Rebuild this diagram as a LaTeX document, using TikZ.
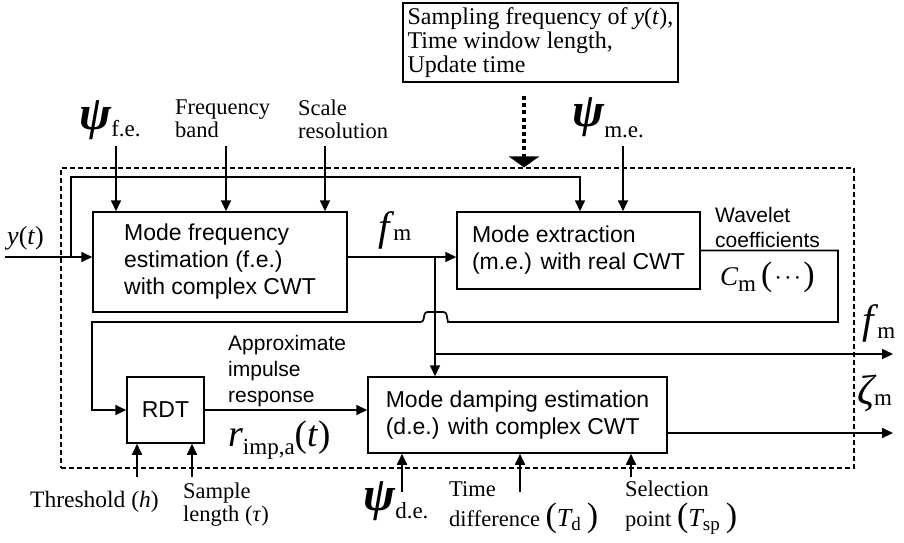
\documentclass[tikz,border=0pt]{standalone}
\usepackage{fontspec}
\setmainfont{Liberation Serif}
\setsansfont{Liberation Sans}
\usetikzlibrary{arrows.meta}
\newcommand{\bigpsi}{{\fontsize{48}{48}\selectfont\bfseries\itshape ψ}}
\newcommand{\bigf}{{\fontsize{41}{41}\selectfont\itshape f}}
\newcommand{\bigpar}[1]{{\fontsize{34}{34}\selectfont #1}}
\begin{document}
\begin{tikzpicture}[x=1pt,y=-1pt,
  arr/.style={line width=1.7pt,-{Triangle[length=11pt,width=10pt]}},
  blk/.style={draw,line width=1.5pt,font=\sffamily\fontsize{23}{27}\selectfont,align=left,inner sep=0pt},
  lbl/.style={font=\fontsize{22.5}{23}\selectfont,align=left,inner sep=0pt},
  slbl/.style={font=\sffamily\fontsize{21}{26}\selectfont,align=left,inner sep=0pt},
  sym/.style={font=\fontsize{23}{23}\selectfont,inner sep=0pt,anchor=base west}]
\useasboundingbox (0,0) rectangle (904,542);

% dashed frame
\node[draw,line width=1.2pt,dash pattern=on 5pt off 3pt,minimum width=793pt,minimum height=300pt,inner sep=0pt] (DB) at (457.5,318) {};

% blocks
\node[blk,minimum width=254pt,minimum height=100pt] (MFE) at (220,262) {Mode frequency\\estimation (f.e.)\\with complex CWT};
\node[blk,minimum width=243pt,minimum height=77pt] (MEX) at (578.5,250.5) {Mode extraction\\(m.e.) with real CWT};
\node[blk,minimum width=77pt,minimum height=66pt] (RDT) at (165.5,410) {RDT};
\node[blk,minimum width=299pt,minimum height=76pt] (MDE) at (517.5,415) {Mode damping estimation\\(d.e.) with complex CWT};
\node[draw,line width=1.2pt,font=\fontsize{24}{24}\selectfont,align=left,minimum width=275pt,minimum height=79pt,inner sep=0pt] (TOP) at (540.5,42.5) {Sampling frequency of \textit{y}(\textit{t}),\\Time window length,\\Update time};

% top labels
\node[sym] (psife) at (79,129) {\bigpsi\raisebox{-7pt}{f.e.}};
\node[lbl,anchor=north west] (fband) at (175,100) {Frequency\\band};
\node[lbl,anchor=north west] (sres) at (298,100) {Scale\\resolution};
\node[sym] (psime) at (572,126) {\bigpsi\raisebox{-11pt}{m.e.}};
\node[sym,font=\fontsize{26}{26}\selectfont] (ylab) at (7,244) {\textit{y}(\textit{t})};
\node[sym] (fm1) at (378,240) {\bigf\,m};
\node[slbl,anchor=north west,font=\sffamily\fontsize{21}{25}\selectfont] (wc) at (715,207) {Wavelet\\coefficients};
\node[sym] (cm) at (720,285) {{\fontsize{27}{27}\selectfont\itshape C}\raisebox{-6pt}{m}\kern5pt\bigpar{(}\kern2pt·\kern2pt·\kern2pt·\kern2pt\bigpar{)}};
\node[slbl,anchor=north west] (air) at (228,335) {Approximate\\impulse\\response};
\node[sym] (rimp) at (228,446) {{\fontsize{38}{38}\selectfont\itshape r}\raisebox{-8pt}{imp,a}{\fontsize{37}{37}\selectfont(\textit{t})}};
\node[sym] (fm2) at (862,333) {\bigf\raisebox{-5pt}{\,m}};
\node[sym] (zm) at (857,404) {{\fontsize{42}{42}\selectfont\itshape ζ}\raisebox{-1pt}{m}};

% bottom labels
\node[sym,font=\fontsize{23.5}{23.5}\selectfont] (thr) at (30,507) {Threshold (\textit{h})};
\node[lbl,anchor=north west] (slen) at (183,483) {Sample\\length (\textit{τ})};
\node[sym] (pside) at (363,510) {\bigpsi\raisebox{-8pt}{d.e.}};
\node[lbl,anchor=north west,font=\fontsize{22.5}{30}\selectfont] (tdiff) at (449,481) {Time\\difference \bigpar{(}{\fontsize{26}{26}\selectfont\itshape T}\raisebox{-4pt}{\fontsize{19}{19}\selectfont d}\kern6pt\bigpar{)}};
\node[lbl,anchor=north west,font=\fontsize{22.5}{30}\selectfont] (selp) at (625,481) {Selection\\point \bigpar{(}{\fontsize{26}{26}\selectfont\itshape T}\raisebox{-4pt}{\fontsize{19}{19}\selectfont sp}\kern6pt\bigpar{)}};

% coordinates
\coordinate (yin) at (5,257);
\coordinate (split) at (71,257);
\coordinate (c1) at (580,177);
\coordinate (j1) at (435,257);
\coordinate (j2) at (435,354);
\coordinate (fmout) at (893,354);
\coordinate (zout) at (893,433);
\coordinate (w1) at (838,250.5);
\coordinate (w2) at (92,322);
\coordinate (a1) at (116,146);
\coordinate (a2) at (226,146);
\coordinate (a3) at (325,146);
\coordinate (a4) at (623,146);
\coordinate (d1) at (524,96);
\coordinate (b1) at (137,477);
\coordinate (b2) at (192,477);
\coordinate (b3) at (402,492);
\coordinate (b4) at (520,492);
\coordinate (b5) at (631,477);

% connectors
\draw[arr] (yin) -- (MFE.west |- yin);
\draw[arr] (split) |- (c1) -- (c1 |- MEX.north);
\draw[arr] (MFE.east |- yin) -- (MEX.west |- yin);
\draw[arr] (j1) -- (j1 |- MDE.north);
\draw[arr] (j2) -- (fmout);
\draw[arr] (MEX.east) -- (w1) |- (448,322) [rounded corners=2.5pt] -- (446,312) -- (425,312) -- (423,322) [sharp corners] -- (w2) -- (w2 |- RDT.west) -- (RDT.west);
\draw[arr] (RDT.east) -- (MDE.west |- RDT.east);
\draw[arr] (MDE.east |- zout) -- (zout);
\foreach \c/\t in {a1/MFE,a2/MFE,a3/MFE,a4/MEX}
  \draw[arr] (\c) -- (\c |- \t.north);
\foreach \c/\t in {b1/RDT,b2/RDT,b3/MDE,b4/MDE,b5/MDE}
  \draw[arr] (\c) -- (\c |- \t.south);
\draw[line width=4pt,dash pattern=on 4pt off 3.2pt,-{Triangle[length=11pt,width=30pt]}] (d1) -- (d1 |- DB.north);
\end{tikzpicture}
\end{document}
